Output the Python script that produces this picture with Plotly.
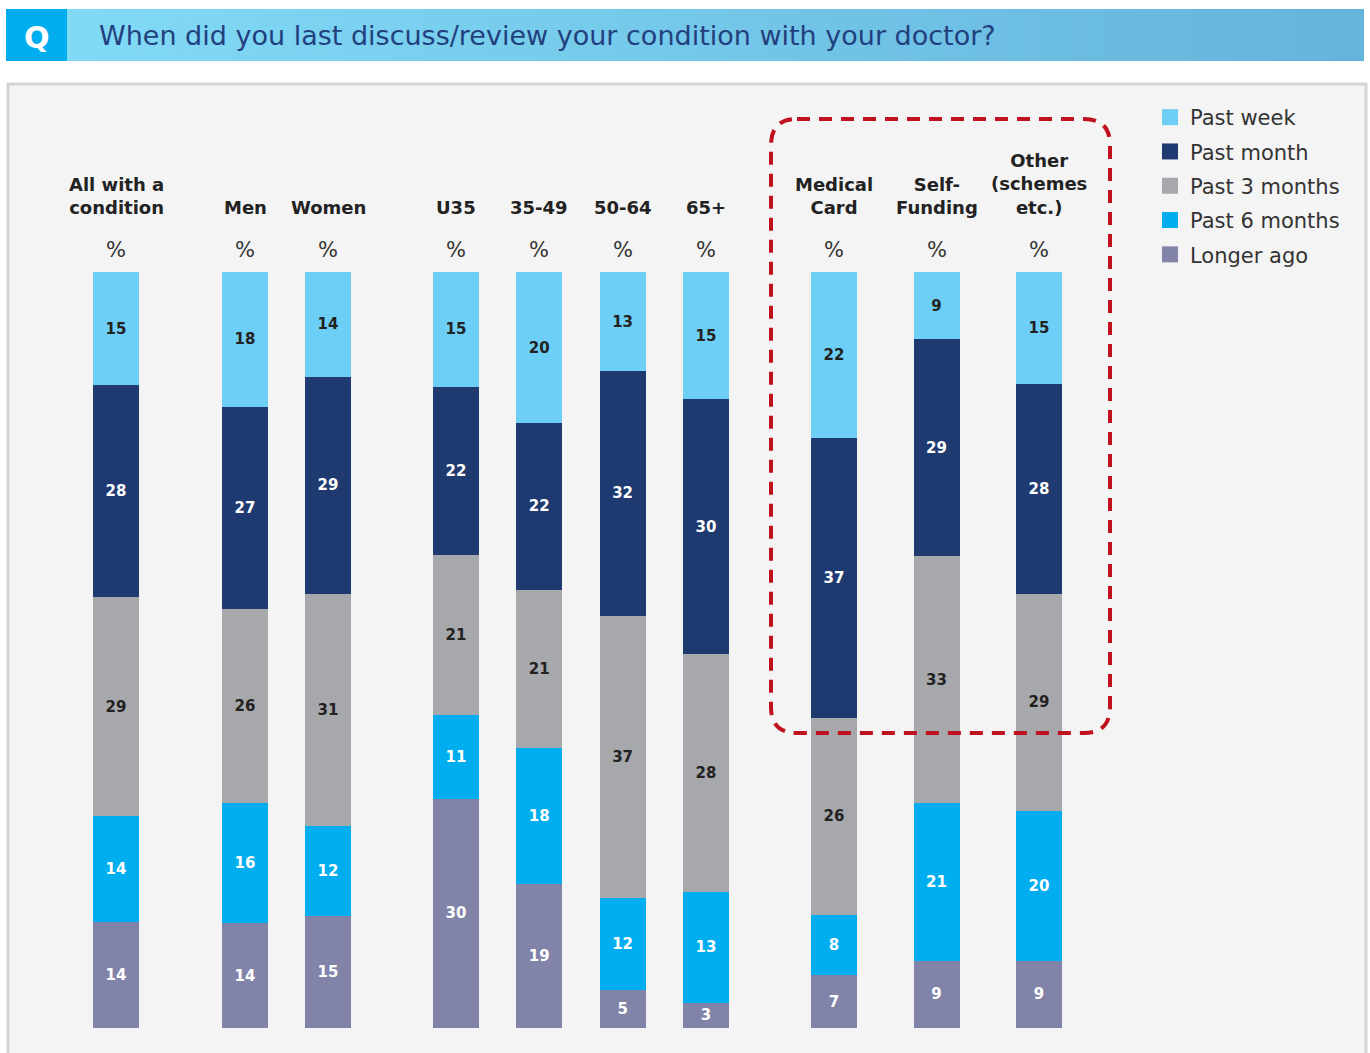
import plotly.graph_objects as go

# ---- data -------------------------------------------------------------
categories = ["All with a condition", "Men", "Women", "U35", "35-49", "50-64", "65+",
              "Medical Card", "Self-Funding", "Other (schemes etc.)"]
column_titles = ["All with a<br>condition", "Men", "Women", "U35", "35-49", "50-64", "65+",
                 "Medical<br>Card", "Self-<br>Funding", "Other<br>(schemes<br>etc.)"]

past_week = [15, 18, 14, 15, 20, 13, 15, 22, 9, 15]
past_month = [28, 27, 29, 22, 22, 32, 30, 37, 29, 28]
past_3_months = [29, 26, 31, 21, 21, 37, 28, 26, 33, 29]
past_6_months = [14, 16, 12, 11, 18, 12, 13, 8, 21, 20]
longer_ago = [14, 14, 15, 30, 19, 5, 3, 7, 9, 9]

question = "When did you last discuss/review your condition with your doctor?"

# ---- page geometry ----------------------------------------------------
W, H = 1370, 1053
FONT = "DejaVu Sans"


def px(x):
    return x / W


def py(y):
    return 1 - y / H


# column groups: (number of bars, first centre, spacing)
groups = [(1, 116, 0), (2, 245, 83), (4, 456, 83.3), (3, 834, 102.5)]
xpos = []
for n, start, step in groups:
    xpos += [start + i * step for i in range(n)]
BAR_W = 46

series = [
    ("Longer ago", longer_ago, "#8283a9", "white"),
    ("Past 6 months", past_6_months, "#00aeef", "white"),
    ("Past 3 months", past_3_months, "#a7a8ac", "#222222"),
    ("Past month", past_month, "#1f3a70", "white"),
    ("Past week", past_week, "#6dcff6", "#222222"),
]

fig = go.Figure()
for name, vals, color, tcol in series:
    fig.add_trace(go.Bar(
        x=xpos, y=vals, width=BAR_W, name=name, showlegend=False,
        marker=dict(color=color, line=dict(width=0)),
        text=vals, texttemplate="%{text}", textposition="inside",
        insidetextanchor="middle", textangle=0, constraintext="none",
        textfont=dict(family=FONT, size=15, color=tcol, weight="bold"),
        hovertemplate="%{customdata}<br>" + name + ": %{text}%<extra></extra>",
        customdata=categories,
    ))

# legend entries (top to bottom)
for name, vals, color, tcol in reversed(series):
    fig.add_trace(go.Scatter(
        x=[None], y=[None], mode="markers", name=name, legendgroup=name,
        marker=dict(symbol="square", size=18, color=color, line=dict(width=0)),
    ))

shapes = []
# panel background
shapes.append(dict(type="rect", xref="paper", yref="paper", layer="below",
                   x0=px(8), x1=px(1366), y0=-0.02, y1=py(84),
                   fillcolor="#f4f4f4", line=dict(color="#d4d4d4", width=3)))

# header band with horizontal gradient
c0, c1 = (129, 218, 245), (102, 180, 220)
x_start, x_end, n_strips = 67, 1364, 80
for i in range(n_strips):
    t = i / (n_strips - 1)
    col = tuple(round(a + (b - a) * t) for a, b in zip(c0, c1))
    xa = x_start + (x_end - x_start) * i / n_strips
    xb = x_start + (x_end - x_start) * (i + 1) / n_strips + 1
    shapes.append(dict(type="rect", xref="paper", yref="paper", layer="below",
                       x0=px(xa), x1=px(min(xb, x_end)), y0=py(61), y1=py(9),
                       fillcolor="rgb(%d,%d,%d)" % col, line=dict(width=0)))
shapes.append(dict(type="rect", xref="paper", yref="paper", layer="below",
                   x0=px(6), x1=px(67), y0=py(61), y1=py(9),
                   fillcolor="#00aeef", line=dict(width=0)))

# dashed rounded highlight around the funding columns
L, R, T, B, r = 771, 1110, 119, 733, 26
path = (f"M {px(L + r)},{py(T)} L {px(R - r)},{py(T)} "
        f"Q {px(R)},{py(T)} {px(R)},{py(T + r)} "
        f"L {px(R)},{py(B - r)} Q {px(R)},{py(B)} {px(R - r)},{py(B)} "
        f"L {px(L + r)},{py(B)} Q {px(L)},{py(B)} {px(L)},{py(B - r)} "
        f"L {px(L)},{py(T + r)} Q {px(L)},{py(T)} {px(L + r)},{py(T)} Z")
shapes.append(dict(type="path", xref="paper", yref="paper", layer="above", path=path,
                   line=dict(color="#c0111f", width=4, dash="13px,9px")))

annotations = [
    dict(text="<b>Q</b>", x=px(37), y=py(37), xref="paper", yref="paper",
         xanchor="center", yanchor="middle", showarrow=False,
         font=dict(family=FONT, size=30, color="white")),
    dict(text=question, x=px(97), y=py(36), xref="paper", yref="paper",
         xanchor="left", yanchor="middle", showarrow=False,
         font=dict(family=FONT, size=27, color="#22407e")),
]
for xc, title in zip(xpos, column_titles):
    annotations.append(dict(text="<b>" + title + "</b>", x=xc, y=py(220), xref="x", yref="paper",
                            yanchor="bottom", showarrow=False,
                            font=dict(family=FONT, size=18, color="#222222")))
    annotations.append(dict(text="%", x=xc, y=py(250), xref="x", yref="paper",
                            yanchor="middle", showarrow=False,
                            font=dict(family=FONT, size=21, color="#333333")))

fig.update_layout(
    width=W, height=H, margin=dict(l=0, r=0, t=0, b=0),
    paper_bgcolor="white", plot_bgcolor="rgba(0,0,0,0)",
    barmode="stack", barnorm="percent",
    xaxis=dict(range=[0, W], domain=[0, 1], visible=False, fixedrange=True),
    yaxis=dict(range=[0, 100], domain=[25 / H, 1 - 272 / H], visible=False, fixedrange=True),
    legend=dict(x=px(1150), y=py(97), xanchor="left", yanchor="top",
                traceorder="grouped", tracegroupgap=4, bgcolor="rgba(0,0,0,0)",
                font=dict(family=FONT, size=21, color="#333333")),
    shapes=shapes, annotations=annotations,
    font=dict(family=FONT),
)

fig.write_html("out.html")
